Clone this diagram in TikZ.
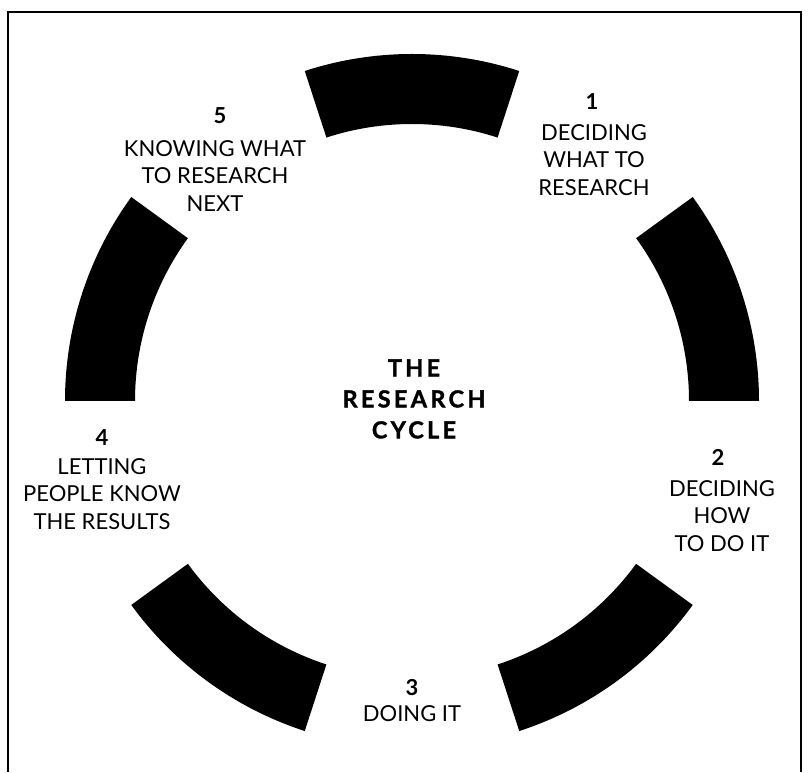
\documentclass[tikz,border=0pt]{standalone}
\usepackage{fontspec}
\setmainfont{Lato}
\newfontfamily\titlefont[LetterSpace=14,FakeBold=1.5]{Lato}
\usetikzlibrary{calc}
\tikzset{
  seg/.style={fill=black},
  frameline/.style={line width=2pt},
  lbl/.style={inner sep=0pt, align=center, font=\fontsize{22}{27.5}\selectfont},
  num/.style={inner sep=0pt, font=\fontsize{22}{27.5}\selectfont\bfseries},
  ttl/.style={inner sep=0pt, align=center, font=\titlefont\fontsize{23.5}{31}\selectfont\bfseries}
}
\begin{document}
\begin{tikzpicture}[x=1pt,y=1pt]
\useasboundingbox (0,0) rectangle (809,772);
% frame
\draw[frameline] (8,0) -- (8,760) -- (801,760) -- (801,0);
% ring segments
\begin{scope}[shift={(412,371)}]
\foreach \m in {90,18,-54,-126,162}{
  \fill[seg] (\m-18:347) arc[start angle=\m-18, end angle=\m+18, radius=347]
     -- (\m+18:277) arc[start angle=\m+18, end angle=\m-18, radius=277] -- cycle;
}
\end{scope}
% title
\node[ttl] (title) at (414,373) {THE\\RESEARCH\\CYCLE};
% labels
\node[num] (n1) at (592,670) {1};
\node[lbl] (l1) at (594,612) {DECIDING\\WHAT TO\\RESEARCH};
\node[num] (n2) at (718,315) {2};
\node[lbl] (l2) at (722,256) {DECIDING\\HOW\\TO DO IT};
\node[num] (n3) at (412,84) {3};
\node[lbl] (l3) at (412,58) {DOING IT};
\node[num] (n4) at (102,334) {4};
\node[lbl] (l4) at (102,278) {LETTING\\PEOPLE KNOW\\THE RESULTS};
\node[num] (n5) at (220,656) {5};
\node[lbl] (l5) at (215,596) {KNOWING WHAT\\TO RESEARCH\\NEXT};
\end{tikzpicture}
\end{document}
